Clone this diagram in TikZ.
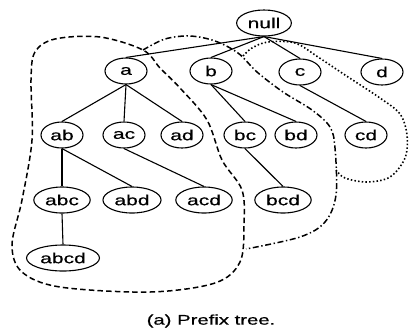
\documentclass[tikz,border=0pt]{standalone}
\usepackage{fontspec}
\setmainfont{Liberation Sans}[FakeStretch=1.45, FakeBold=0.6]
\usetikzlibrary{shapes.geometric}

\tikzset{
  item/.style={ellipse, draw, line width=1.1pt, inner sep=3pt,
    minimum width=42pt, minimum height=26pt,
    font=\fontsize{14.5}{17}\selectfont},
  regionA/.style={line width=1.5pt, dash pattern=on 5.5pt off 3.2pt},
  regionB/.style={line width=1.5pt, dash pattern=on 6pt off 2.6pt on 1.4pt off 2.6pt},
  regionC/.style={line width=1.6pt, dash pattern=on 1.5pt off 2.2pt}
}

\begin{document}
\begin{tikzpicture}[x=1pt,y=-1pt]
  \useasboundingbox (0,0) rectangle (409,333);

  \begin{scope}[every node/.style={item}]
    \node (null) at (264,23)  {null};
    \node (a)    at (126,71)  {a};
    \node (b)    at (211,71)  {b};
    \node (c)    at (300,72)  {c};
    \node (d)    at (382,72)  {d};
    \node (ab)   at (62,135)  {ab};
    \node (ac)   at (124,135) {ac};
    \node (ad)   at (182,135) {ad};
    \node (bc)   at (245,135) {bc};
    \node (bd)   at (296,135) {bd};
    \node (cd)   at (366,135) {cd};
    \node (abc)  at (62,200)  {abc};
    \node (abd)  at (132,200) {abd};
    \node (acd)  at (204,200) {acd};
    \node (bcd)  at (283,200) {bcd};
    \node (abcd) at (63,258)  {abcd};
  \end{scope}

  \begin{scope}[every edge/.style={draw, line width=1.1pt}]
    \path (null.south) edge (a.north);
    \path (null.south) edge (b.north);
    \path (null.south) edge (c.north);
    \path (null.south) edge (d.north);
    \path (a.south)    edge (ab.north);
    \path (a.south)    edge (ac.north);
    \path (a.south)    edge (ad.north);
    \path (b.south)    edge (bc.north);
    \path (b.south)    edge (bd.north);
    \path (c.south)    edge (cd.north);
    \path (ab.south)   edge (abc.north);
    \path (ab.south)   edge (abd.north);
    \path (ac.south)   edge (acd.north);
    \path (bc.south)   edge (bcd.north);
    \path (abc.south)  edge (abcd.north);
  \end{scope}

  % subtree of a
  \draw[regionA] plot[smooth cycle, tension=0.55] coordinates {
    (143,50) (100,37) (55,39) (35,52) (31,80) (32,140) (22,200)
    (12,245) (22,272) (60,287) (150,292) (215,283) (240,262)
    (244,225) (242,190) (222,160) (207,120) (180,88) (160,68)};

  % subtree of b
  \draw[regionB] plot[smooth, tension=0.55] coordinates {
    (143,50) (165,39) (190,36) (215,41) (238,53) (257,72) (283,92)
    (312,110) (330,127) (335,148) (336,195) (325,222) (300,237) (246,249)};

  % subtree of c
  \draw[regionC] plot[smooth, tension=0.55] coordinates {
    (243,56) (252,48) (268,42) (295,43) (318,57) (345,75) (380,98)
    (400,114) (407,135) (405,158) (390,177) (367,182) (345,178) (336,170)};

  \node[font=\fontsize{14}{17}\selectfont] (caption) at (211,321) {(a) Prefix tree.};
\end{tikzpicture}
\end{document}
